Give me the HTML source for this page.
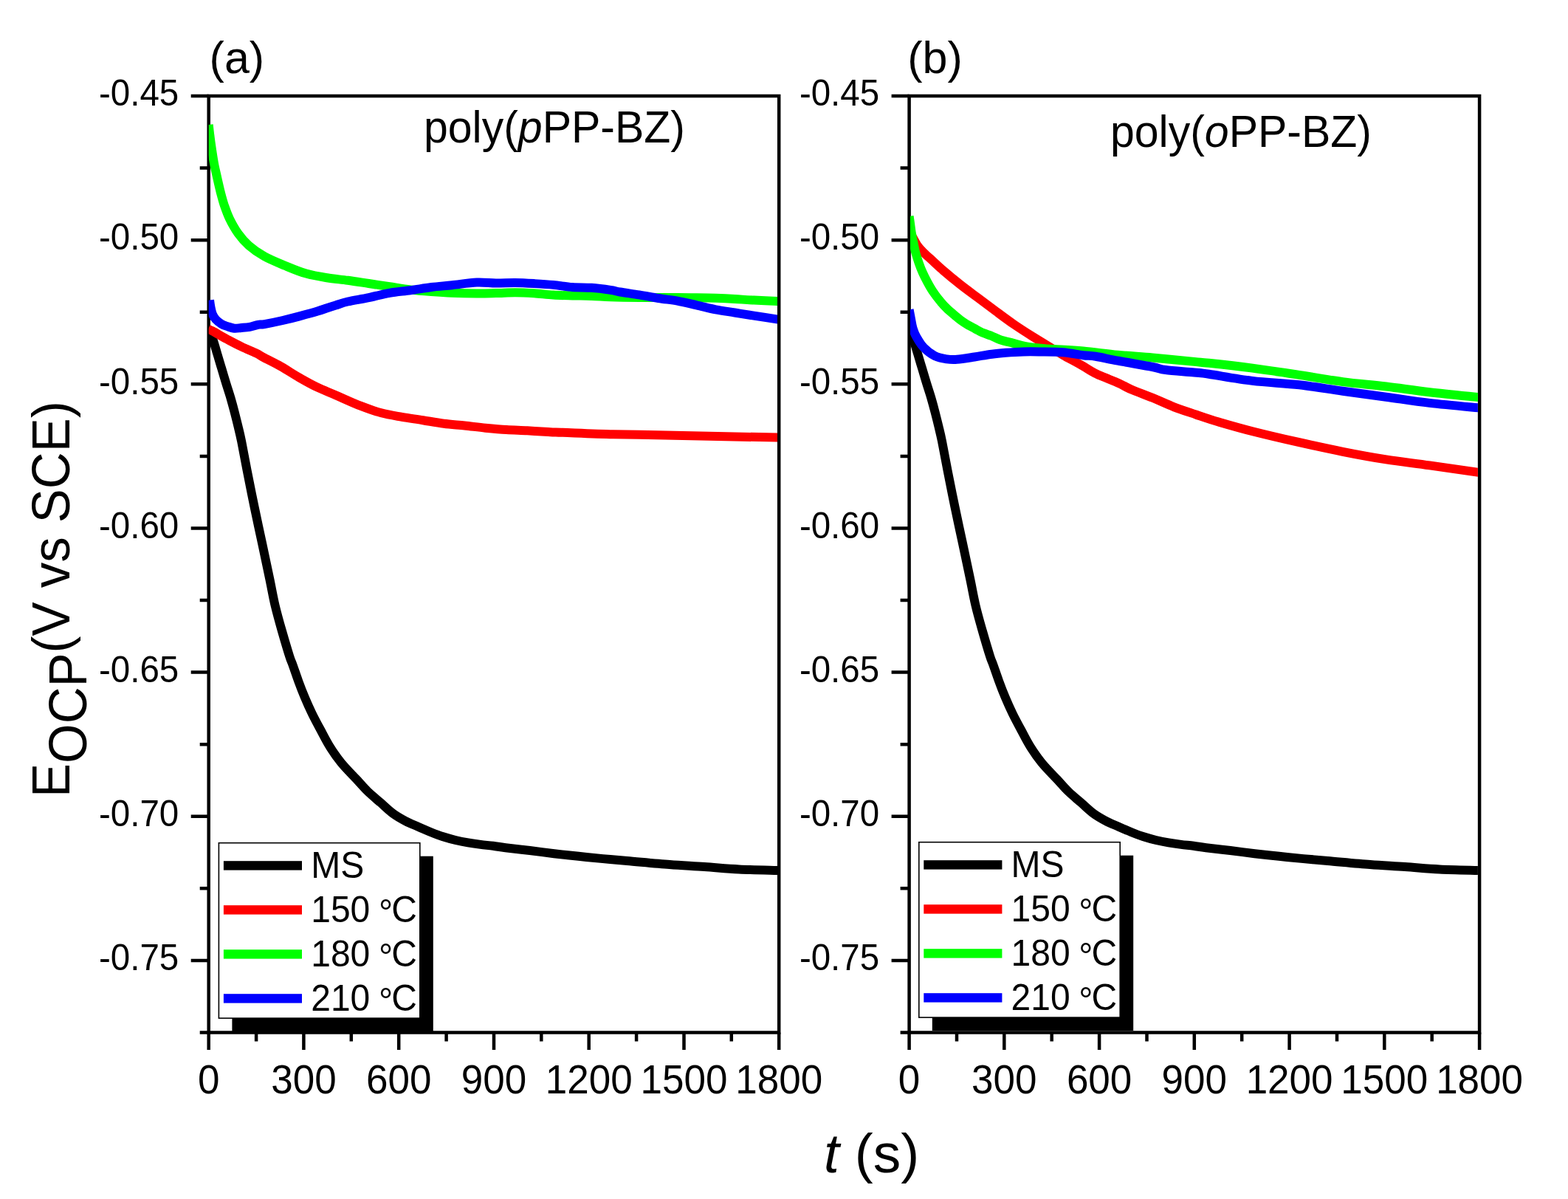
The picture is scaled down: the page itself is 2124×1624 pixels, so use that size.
<!DOCTYPE html>
<html><head><meta charset="utf-8"><title>E_OCP vs t</title>
<style>html,body{margin:0;padding:0;background:#fff;}svg{display:block;}text{font-family:"Liberation Sans", Arial, sans-serif;fill:#000;}</style>
</head><body>
<svg width="2124" height="1624" viewBox="0 0 2124 1624">
<rect x="0" y="0" width="2124" height="1624" fill="#fff"/>
<clipPath id="c0"><rect x="282.7" y="130.0" width="770.3" height="1268.5"/></clipPath>
<clipPath id="c1"><rect x="1233.0" y="130.0" width="768.9" height="1268.5"/></clipPath>
<rect x="282.7" y="130.0" width="772.5" height="1268.5" fill="none" stroke="#000" stroke-width="4.5"/>
<path d="M258.7,130.0H282.7M270.7,227.6H282.7M258.7,325.2H282.7M270.7,422.7H282.7M258.7,520.3H282.7M270.7,617.9H282.7M258.7,715.5H282.7M270.7,813.0H282.7M258.7,910.6H282.7M270.7,1008.2H282.7M258.7,1105.8H282.7M270.7,1203.3H282.7M258.7,1300.9H282.7M270.7,1398.5H282.7M282.7,1398.5V1422.0M347.1,1398.5V1410.5M411.4,1398.5V1422.0M475.8,1398.5V1410.5M540.2,1398.5V1422.0M604.6,1398.5V1410.5M669.0,1398.5V1422.0M733.3,1398.5V1410.5M797.7,1398.5V1422.0M862.1,1398.5V1410.5M926.5,1398.5V1422.0M990.8,1398.5V1410.5M1055.2,1398.5V1422.0" stroke="#000" stroke-width="4.5" fill="none"/>
<text transform="translate(242.2,143.2) scale(1,1.040)" font-size="47.5" text-anchor="end">-0.45</text>
<text transform="translate(242.2,338.4) scale(1,1.040)" font-size="47.5" text-anchor="end">-0.50</text>
<text transform="translate(242.2,533.5) scale(1,1.040)" font-size="47.5" text-anchor="end">-0.55</text>
<text transform="translate(242.2,728.7) scale(1,1.040)" font-size="47.5" text-anchor="end">-0.60</text>
<text transform="translate(242.2,923.8) scale(1,1.040)" font-size="47.5" text-anchor="end">-0.65</text>
<text transform="translate(242.2,1119.0) scale(1,1.040)" font-size="47.5" text-anchor="end">-0.70</text>
<text transform="translate(242.2,1314.1) scale(1,1.040)" font-size="47.5" text-anchor="end">-0.75</text>
<text transform="translate(282.7,1480.8) scale(1,1.040)" font-size="53" text-anchor="middle">0</text>
<text transform="translate(411.4,1480.8) scale(1,1.040)" font-size="53" text-anchor="middle">300</text>
<text transform="translate(540.2,1480.8) scale(1,1.040)" font-size="53" text-anchor="middle">600</text>
<text transform="translate(669.0,1480.8) scale(1,1.040)" font-size="53" text-anchor="middle">900</text>
<text transform="translate(797.7,1480.8) scale(1,1.040)" font-size="53" text-anchor="middle">1200</text>
<text transform="translate(926.5,1480.8) scale(1,1.040)" font-size="53" text-anchor="middle">1500</text>
<text transform="translate(1055.2,1480.8) scale(1,1.040)" font-size="53" text-anchor="middle">1800</text>
<rect x="1231.6" y="130.0" width="772.5" height="1268.5" fill="none" stroke="#000" stroke-width="4.5"/>
<path d="M1207.6,130.0H1231.6M1219.6,227.6H1231.6M1207.6,325.2H1231.6M1219.6,422.7H1231.6M1207.6,520.3H1231.6M1219.6,617.9H1231.6M1207.6,715.5H1231.6M1219.6,813.0H1231.6M1207.6,910.6H1231.6M1219.6,1008.2H1231.6M1207.6,1105.8H1231.6M1219.6,1203.3H1231.6M1207.6,1300.9H1231.6M1219.6,1398.5H1231.6M1231.6,1398.5V1422.0M1296.0,1398.5V1410.5M1360.3,1398.5V1422.0M1424.7,1398.5V1410.5M1489.1,1398.5V1422.0M1553.5,1398.5V1410.5M1617.8,1398.5V1422.0M1682.2,1398.5V1410.5M1746.6,1398.5V1422.0M1811.0,1398.5V1410.5M1875.3,1398.5V1422.0M1939.7,1398.5V1410.5M2004.1,1398.5V1422.0" stroke="#000" stroke-width="4.5" fill="none"/>
<text transform="translate(1191.1,143.2) scale(1,1.040)" font-size="47.5" text-anchor="end">-0.45</text>
<text transform="translate(1191.1,338.4) scale(1,1.040)" font-size="47.5" text-anchor="end">-0.50</text>
<text transform="translate(1191.1,533.5) scale(1,1.040)" font-size="47.5" text-anchor="end">-0.55</text>
<text transform="translate(1191.1,728.7) scale(1,1.040)" font-size="47.5" text-anchor="end">-0.60</text>
<text transform="translate(1191.1,923.8) scale(1,1.040)" font-size="47.5" text-anchor="end">-0.65</text>
<text transform="translate(1191.1,1119.0) scale(1,1.040)" font-size="47.5" text-anchor="end">-0.70</text>
<text transform="translate(1191.1,1314.1) scale(1,1.040)" font-size="47.5" text-anchor="end">-0.75</text>
<text transform="translate(1231.6,1480.8) scale(1,1.040)" font-size="53" text-anchor="middle">0</text>
<text transform="translate(1360.3,1480.8) scale(1,1.040)" font-size="53" text-anchor="middle">300</text>
<text transform="translate(1489.1,1480.8) scale(1,1.040)" font-size="53" text-anchor="middle">600</text>
<text transform="translate(1617.8,1480.8) scale(1,1.040)" font-size="53" text-anchor="middle">900</text>
<text transform="translate(1746.6,1480.8) scale(1,1.040)" font-size="53" text-anchor="middle">1200</text>
<text transform="translate(1875.3,1480.8) scale(1,1.040)" font-size="53" text-anchor="middle">1500</text>
<text transform="translate(2004.1,1480.8) scale(1,1.040)" font-size="53" text-anchor="middle">1800</text>
<path d="M282.7,445.0 C283.7,447.6 286.7,454.8 288.6,460.5 C290.5,466.2 292.4,473.0 294.3,479.4 C296.2,485.8 298.2,492.5 300.2,499.1 C302.2,505.7 304.1,512.2 306.1,518.8 C308.1,525.4 310.4,531.9 312.3,538.5 C314.2,545.1 316.0,551.6 317.7,558.2 C319.4,564.8 321.0,571.3 322.6,577.9 C324.2,584.5 325.1,587.8 327.1,597.6 C329.1,607.5 331.7,622.2 334.6,637.0 C337.5,651.8 341.1,669.9 344.5,686.3 C347.9,702.7 351.5,719.2 355.0,735.6 C358.5,752.0 362.5,770.7 365.4,784.8 C368.3,798.9 369.9,808.4 372.6,820.0 C375.4,831.6 378.6,843.0 381.9,854.5 C385.2,866.0 389.8,881.4 392.2,889.0 C394.6,896.6 394.3,894.5 396.3,900.0 C398.3,905.5 401.4,914.8 404.1,922.2 C406.8,929.6 409.6,936.9 412.7,944.3 C415.8,951.7 419.1,959.1 422.7,966.5 C426.3,973.9 430.3,981.3 434.3,988.7 C438.3,996.1 441.9,1003.5 446.5,1010.9 C451.1,1018.3 456.1,1025.6 462.1,1033.0 C468.1,1040.4 476.5,1048.7 482.6,1055.2 C488.7,1061.8 493.0,1067.0 498.5,1072.3 C504.0,1077.6 509.8,1082.2 515.4,1087.1 C521.0,1092.0 526.8,1097.7 532.4,1101.9 C538.0,1106.1 543.6,1109.1 549.3,1112.1 C554.9,1115.1 560.6,1117.2 566.3,1119.7 C571.9,1122.2 577.6,1124.7 583.2,1127.0 C588.9,1129.3 594.6,1131.5 600.2,1133.3 C605.9,1135.1 611.5,1136.7 617.1,1138.0 C622.8,1139.3 628.5,1140.4 634.1,1141.4 C639.8,1142.4 645.4,1143.2 651.0,1143.9 C656.6,1144.6 662.4,1145.1 668.0,1145.8 C673.6,1146.5 676.5,1147.3 684.8,1148.3 C693.1,1149.3 706.7,1150.7 717.7,1152.0 C728.7,1153.3 739.7,1154.9 750.7,1156.2 C761.7,1157.5 772.6,1158.7 783.6,1159.8 C794.6,1160.9 805.6,1162.1 816.6,1163.1 C827.6,1164.1 834.4,1164.7 849.5,1166.0 C864.6,1167.3 889.6,1169.8 907.1,1171.1 C924.6,1172.4 938.5,1173.0 954.2,1174.1 C969.9,1175.1 984.2,1176.6 1001.2,1177.4 C1018.2,1178.2 1046.9,1178.7 1056.0,1179.0" fill="none" stroke="#000000" stroke-width="12.0" stroke-linejoin="round" stroke-linecap="butt" clip-path="url(#c0)"/>
<path d="M1231.6,445.0 C1232.6,447.6 1235.6,454.8 1237.5,460.5 C1239.4,466.2 1241.3,473.0 1243.2,479.4 C1245.1,485.8 1247.1,492.5 1249.1,499.1 C1251.1,505.7 1253.0,512.2 1255.0,518.8 C1257.0,525.4 1259.3,531.9 1261.2,538.5 C1263.1,545.1 1264.9,551.6 1266.6,558.2 C1268.3,564.8 1269.9,571.3 1271.5,577.9 C1273.1,584.5 1274.0,587.8 1276.0,597.6 C1278.0,607.5 1280.6,622.2 1283.5,637.0 C1286.4,651.8 1290.0,669.9 1293.4,686.3 C1296.8,702.7 1300.4,719.2 1303.9,735.6 C1307.4,752.0 1311.4,770.7 1314.3,784.8 C1317.2,798.9 1318.8,808.4 1321.5,820.0 C1324.2,831.6 1327.5,843.0 1330.8,854.5 C1334.1,866.0 1338.7,881.4 1341.1,889.0 C1343.5,896.6 1343.2,894.5 1345.2,900.0 C1347.2,905.5 1350.3,914.8 1353.0,922.2 C1355.7,929.6 1358.5,936.9 1361.6,944.3 C1364.7,951.7 1368.0,959.1 1371.6,966.5 C1375.2,973.9 1379.2,981.3 1383.2,988.7 C1387.2,996.1 1390.8,1003.5 1395.4,1010.9 C1400.0,1018.3 1405.0,1025.6 1411.0,1033.0 C1417.0,1040.4 1425.4,1048.7 1431.5,1055.2 C1437.6,1061.8 1441.9,1067.0 1447.4,1072.3 C1452.9,1077.6 1458.7,1082.2 1464.3,1087.1 C1469.9,1092.0 1475.7,1097.7 1481.3,1101.9 C1486.9,1106.1 1492.5,1109.1 1498.2,1112.1 C1503.8,1115.1 1509.5,1117.2 1515.2,1119.7 C1520.8,1122.2 1526.4,1124.7 1532.1,1127.0 C1537.8,1129.3 1543.4,1131.5 1549.1,1133.3 C1554.8,1135.1 1560.3,1136.7 1566.0,1138.0 C1571.7,1139.3 1577.3,1140.4 1583.0,1141.4 C1588.7,1142.4 1594.2,1143.2 1599.9,1143.9 C1605.6,1144.6 1611.3,1145.1 1616.9,1145.8 C1622.5,1146.5 1625.4,1147.3 1633.7,1148.3 C1642.0,1149.3 1655.6,1150.7 1666.6,1152.0 C1677.6,1153.3 1688.6,1154.9 1699.6,1156.2 C1710.6,1157.5 1721.5,1158.7 1732.5,1159.8 C1743.5,1160.9 1754.5,1162.1 1765.5,1163.1 C1776.5,1164.1 1783.3,1164.7 1798.4,1166.0 C1813.5,1167.3 1838.5,1169.8 1856.0,1171.1 C1873.5,1172.4 1887.4,1173.0 1903.1,1174.1 C1918.8,1175.1 1933.1,1176.6 1950.1,1177.4 C1967.1,1178.2 1995.8,1178.7 2004.9,1179.0" fill="none" stroke="#000000" stroke-width="12.0" stroke-linejoin="round" stroke-linecap="butt" clip-path="url(#c1)"/>
<path d="M282.0,445.5 C283.0,446.0 283.6,446.1 287.9,448.4 C292.2,450.7 301.0,456.0 307.6,459.5 C314.2,463.0 320.7,466.5 327.3,469.6 C333.9,472.8 341.9,475.9 347.0,478.4 C352.1,480.9 352.4,481.6 358.0,484.6 C363.6,487.6 372.9,492.0 380.8,496.5 C388.7,501.0 397.3,506.8 405.5,511.5 C413.7,516.2 421.9,520.8 430.1,524.7 C438.3,528.7 445.0,531.0 454.7,535.2 C464.4,539.4 477.9,545.7 488.2,549.7 C498.5,553.7 507.1,556.8 516.5,559.3 C525.9,561.8 535.3,563.2 544.7,564.9 C554.1,566.5 563.6,567.7 573.0,569.2 C582.4,570.7 591.8,572.5 601.2,573.7 C610.6,574.9 620.1,575.5 629.5,576.5 C638.9,577.5 648.3,578.8 657.7,579.7 C667.1,580.6 676.6,581.5 686.0,582.1 C695.4,582.7 704.8,582.8 714.2,583.3 C723.6,583.8 734.9,584.6 742.5,585.0 C750.1,585.4 745.3,585.2 760.0,585.7 C774.7,586.2 807.1,587.6 830.6,588.2 C854.1,588.8 877.7,588.9 901.2,589.4 C924.8,589.9 946.1,590.6 971.9,591.1 C997.7,591.6 1042.0,592.3 1056.0,592.5" fill="none" stroke="#ff0000" stroke-width="12.0" stroke-linejoin="round" stroke-linecap="butt" clip-path="url(#c0)"/>
<path d="M282.7,169.0 C283.0,171.3 283.7,178.4 284.3,183.0 C284.9,187.6 285.2,190.3 286.1,196.6 C287.0,202.9 288.7,214.2 289.9,221.0 C291.1,227.8 292.1,231.2 293.5,237.6 C294.9,244.0 296.9,252.9 298.6,259.7 C300.4,266.5 301.9,272.5 304.0,278.6 C306.1,284.7 307.9,290.0 311.0,296.3 C314.1,302.6 318.3,310.2 322.6,316.2 C326.9,322.2 331.1,327.3 337.0,332.5 C342.9,337.7 349.9,342.7 358.2,347.3 C366.4,351.9 377.1,356.1 386.5,360.0 C395.9,363.9 405.3,367.9 414.7,370.6 C424.1,373.3 433.6,374.8 443.0,376.3 C452.4,377.8 461.8,378.5 471.2,379.8 C480.6,381.1 490.1,382.6 499.5,384.0 C508.9,385.4 518.3,386.9 527.7,388.3 C537.1,389.7 546.6,391.4 556.0,392.5 C565.4,393.6 574.8,394.3 584.2,395.0 C593.6,395.7 602.2,396.3 612.5,396.7 C622.8,397.1 636.0,397.4 645.9,397.5 C655.8,397.6 663.2,397.3 671.8,397.1 C680.4,396.9 689.1,396.2 697.7,396.2 C706.3,396.2 715.0,396.7 723.6,397.3 C732.2,397.9 740.9,399.1 749.5,399.6 C758.1,400.1 766.8,400.2 775.4,400.4 C784.0,400.6 792.7,400.6 801.3,400.9 C809.9,401.2 816.3,401.9 827.1,402.3 C837.9,402.7 850.9,402.9 866.0,403.0 C881.1,403.1 904.8,402.9 917.7,403.0 C930.6,403.1 935.0,403.2 943.6,403.3 C952.2,403.4 960.9,403.5 969.5,403.8 C978.1,404.1 986.8,404.5 995.4,405.0 C1004.0,405.5 1011.2,406.1 1021.3,406.6 C1031.4,407.1 1050.2,407.8 1056.0,408.0" fill="none" stroke="#00ff00" stroke-width="12.0" stroke-linejoin="round" stroke-linecap="butt" clip-path="url(#c0)"/>
<path d="M284.0,406.6 C284.2,408.2 284.8,412.9 285.4,416.0 C286.0,419.1 286.6,422.5 287.8,425.3 C289.0,428.1 290.4,430.6 292.4,432.8 C294.4,435.1 297.4,437.2 300.0,438.8 C302.6,440.4 305.2,441.1 308.1,442.1 C311.0,443.1 314.4,444.4 317.5,444.7 C320.6,445.0 323.5,444.3 327.0,444.0 C330.5,443.7 334.5,443.5 338.3,442.8 C342.1,442.1 346.3,440.4 349.6,439.8 C352.9,439.2 352.6,440.1 358.2,439.1 C363.8,438.1 375.1,435.8 383.0,434.0 C390.9,432.2 397.6,430.5 405.5,428.4 C413.4,426.3 423.9,423.5 430.1,421.6 C436.4,419.7 438.9,418.6 443.0,417.2 C447.1,415.8 450.0,414.9 454.7,413.5 C459.4,412.1 463.7,410.2 471.2,408.5 C478.7,406.8 490.1,405.1 499.5,403.1 C508.9,401.2 518.3,398.5 527.7,396.8 C537.1,395.1 546.6,394.5 556.0,393.2 C565.4,391.9 574.8,390.2 584.2,389.0 C593.6,387.8 602.2,387.3 612.5,386.2 C622.8,385.1 636.0,383.0 645.9,382.6 C655.8,382.2 663.2,383.5 671.8,383.6 C680.4,383.7 689.1,382.9 697.7,383.0 C706.3,383.1 715.0,383.6 723.6,384.1 C732.2,384.6 740.9,385.1 749.5,385.9 C758.1,386.7 766.8,388.4 775.4,389.0 C784.0,389.6 792.7,389.2 801.3,389.8 C809.9,390.4 820.6,391.9 827.1,392.9 C833.6,393.8 833.5,394.4 840.0,395.5 C846.5,396.6 857.3,398.0 865.9,399.4 C874.5,400.8 883.2,402.6 891.8,404.0 C900.4,405.4 909.1,406.1 917.7,407.6 C926.3,409.2 935.0,411.4 943.6,413.3 C952.2,415.2 960.9,417.6 969.5,419.3 C978.1,421.0 986.8,422.1 995.4,423.5 C1004.0,424.9 1011.2,426.0 1021.3,427.6 C1031.4,429.2 1050.2,432.1 1056.0,433.0" fill="none" stroke="#0000ff" stroke-width="12.0" stroke-linejoin="round" stroke-linecap="butt" clip-path="url(#c0)"/>
<path d="M1231.0,312.0 C1231.8,313.4 1233.9,317.1 1235.9,320.6 C1237.9,324.1 1240.5,329.5 1243.1,333.1 C1245.7,336.7 1248.4,339.4 1251.3,342.3 C1254.2,345.2 1256.0,346.5 1260.4,350.5 C1264.8,354.5 1271.1,360.7 1277.7,366.4 C1284.3,372.1 1292.2,378.6 1300.0,384.8 C1307.8,391.0 1316.4,397.2 1324.6,403.3 C1332.8,409.4 1341.1,415.6 1349.3,421.7 C1357.5,427.8 1365.7,434.0 1373.9,439.6 C1382.1,445.2 1389.4,449.9 1398.5,455.6 C1407.6,461.3 1421.4,469.6 1428.3,473.8 C1435.2,478.0 1433.7,477.4 1440.0,481.0 C1446.3,484.6 1458.8,491.2 1466.0,495.3 C1473.2,499.4 1477.3,502.4 1483.0,505.3 C1488.7,508.2 1494.5,510.3 1500.3,512.8 C1506.1,515.3 1512.1,517.6 1517.6,520.1 C1523.0,522.6 1525.7,524.7 1533.0,527.8 C1540.3,530.9 1551.6,534.9 1561.2,538.8 C1570.8,542.7 1580.5,547.5 1590.4,551.3 C1600.3,555.1 1610.5,558.3 1620.5,561.7 C1630.5,565.1 1638.0,567.8 1650.7,571.5 C1663.4,575.2 1678.4,579.6 1696.6,584.2 C1714.8,588.8 1739.6,594.6 1760.0,599.2 C1780.4,603.8 1799.3,607.9 1818.9,611.8 C1838.5,615.7 1858.1,619.3 1877.7,622.4 C1897.3,625.5 1915.4,627.4 1936.6,630.4 C1957.8,633.4 1993.6,638.6 2005.0,640.2" fill="none" stroke="#ff0000" stroke-width="12.0" stroke-linejoin="round" stroke-linecap="butt" clip-path="url(#c1)"/>
<path d="M1231.6,293.0 C1231.9,294.8 1232.7,300.4 1233.2,304.0 C1233.7,307.6 1233.9,310.3 1234.6,314.5 C1235.3,318.7 1236.5,324.6 1237.5,329.3 C1238.5,334.1 1239.3,338.6 1240.5,343.0 C1241.7,347.4 1243.1,351.6 1244.6,355.9 C1246.1,360.2 1247.7,364.5 1249.6,368.8 C1251.5,373.1 1253.7,377.4 1256.0,381.7 C1258.3,386.0 1260.6,390.3 1263.6,394.7 C1266.6,399.1 1270.8,404.5 1273.9,408.3 C1277.0,412.1 1279.0,414.3 1282.2,417.4 C1285.4,420.5 1290.1,424.4 1293.3,427.1 C1296.5,429.8 1298.8,431.8 1301.6,433.8 C1304.4,435.8 1306.7,437.4 1309.9,439.3 C1313.1,441.2 1317.3,443.4 1321.0,445.4 C1324.7,447.4 1328.4,449.5 1332.1,451.1 C1335.8,452.7 1339.4,453.5 1343.1,455.0 C1346.8,456.5 1349.4,458.4 1354.2,460.0 C1359.0,461.6 1365.7,463.1 1371.8,464.6 C1377.9,466.2 1384.4,468.1 1390.7,469.3 C1397.0,470.5 1403.2,471.0 1409.5,471.6 C1415.8,472.2 1418.7,472.4 1428.3,473.0 C1437.9,473.6 1452.8,474.2 1467.1,475.5 C1481.4,476.8 1498.5,479.2 1514.2,480.7 C1529.9,482.2 1544.0,483.0 1561.2,484.5 C1578.5,486.0 1605.0,488.7 1617.7,489.9 C1630.5,491.1 1624.6,490.4 1637.7,491.8 C1650.8,493.2 1677.0,496.1 1696.6,498.6 C1716.2,501.2 1735.0,504.0 1755.4,507.1 C1775.8,510.2 1798.5,514.4 1818.9,517.1 C1839.3,519.8 1858.1,521.1 1877.7,523.5 C1897.3,525.9 1915.4,528.7 1936.6,531.2 C1957.8,533.7 1993.6,537.1 2005.0,538.3" fill="none" stroke="#00ff00" stroke-width="12.0" stroke-linejoin="round" stroke-linecap="butt" clip-path="url(#c1)"/>
<path d="M1231.6,419.5 C1232.0,421.4 1233.0,426.8 1233.8,431.0 C1234.6,435.2 1235.2,440.2 1236.5,444.5 C1237.8,448.8 1239.0,452.1 1241.5,456.5 C1244.0,460.9 1247.1,466.5 1251.3,470.8 C1255.5,475.1 1261.2,479.6 1266.4,482.2 C1271.6,484.8 1277.4,485.5 1282.4,486.3 C1287.4,487.1 1290.2,487.3 1296.5,486.8 C1302.8,486.3 1312.2,484.7 1320.0,483.5 C1327.8,482.3 1336.5,480.6 1343.6,479.7 C1350.7,478.8 1355.3,478.4 1362.4,477.8 C1369.5,477.2 1378.2,476.6 1386.0,476.4 C1393.8,476.2 1400.5,476.3 1409.5,476.4 C1418.5,476.5 1430.4,476.4 1440.0,477.2 C1449.6,478.0 1459.7,480.3 1467.1,481.2 C1474.5,482.1 1476.3,481.6 1484.2,482.8 C1492.1,484.1 1501.4,486.3 1514.2,488.7 C1527.0,491.1 1550.4,494.9 1561.2,497.0 C1572.0,499.1 1569.5,499.8 1578.9,501.0 C1588.3,502.2 1607.9,503.5 1617.7,504.5 C1627.5,505.5 1624.6,504.9 1637.7,506.8 C1650.8,508.7 1676.2,513.5 1696.6,515.9 C1717.0,518.3 1739.6,519.0 1760.0,521.3 C1780.4,523.6 1799.3,527.1 1818.9,529.8 C1838.5,532.5 1858.1,535.0 1877.7,537.7 C1897.3,540.4 1915.4,543.4 1936.6,545.9 C1957.8,548.4 1993.6,551.5 2005.0,552.6" fill="none" stroke="#0000ff" stroke-width="12.0" stroke-linejoin="round" stroke-linecap="butt" clip-path="url(#c1)"/>
<rect x="314.4" y="1159.7" width="272.4" height="237.4" fill="#000"/>
<rect x="296.4" y="1141.7" width="272.4" height="237.4" fill="#fff" stroke="#000" stroke-width="1.6"/>
<rect x="302.9" y="1166.2" width="106.1" height="12.4" fill="#000000"/>
<text transform="translate(421.2,1189.2) scale(1,1.040)" font-size="48">MS</text>
<rect x="302.9" y="1226.2" width="106.1" height="12.4" fill="#ff0000"/>
<text transform="translate(421.2,1249.2) scale(1,1.040)" font-size="48">150 <tspan dx="-1.7" dy="3.4">&#176;</tspan><tspan dx="-1.9" dy="-3.4">C</tspan></text>
<rect x="302.9" y="1286.2" width="106.1" height="12.4" fill="#00ff00"/>
<text transform="translate(421.2,1309.2) scale(1,1.040)" font-size="48">180 <tspan dx="-1.7" dy="3.4">&#176;</tspan><tspan dx="-1.9" dy="-3.4">C</tspan></text>
<rect x="302.9" y="1346.2" width="106.1" height="12.4" fill="#0000ff"/>
<text transform="translate(421.2,1369.2) scale(1,1.040)" font-size="48">210 <tspan dx="-1.7" dy="3.4">&#176;</tspan><tspan dx="-1.9" dy="-3.4">C</tspan></text>
<rect x="1262.8" y="1158.7" width="272.4" height="237.4" fill="#000"/>
<rect x="1244.8" y="1140.7" width="272.4" height="237.4" fill="#fff" stroke="#000" stroke-width="1.6"/>
<rect x="1251.3" y="1165.2" width="106.1" height="12.4" fill="#000000"/>
<text transform="translate(1369.6,1188.2) scale(1,1.040)" font-size="48">MS</text>
<rect x="1251.3" y="1225.2" width="106.1" height="12.4" fill="#ff0000"/>
<text transform="translate(1369.6,1248.2) scale(1,1.040)" font-size="48">150 <tspan dx="-1.7" dy="3.4">&#176;</tspan><tspan dx="-1.9" dy="-3.4">C</tspan></text>
<rect x="1251.3" y="1285.2" width="106.1" height="12.4" fill="#00ff00"/>
<text transform="translate(1369.6,1308.2) scale(1,1.040)" font-size="48">180 <tspan dx="-1.7" dy="3.4">&#176;</tspan><tspan dx="-1.9" dy="-3.4">C</tspan></text>
<rect x="1251.3" y="1345.2" width="106.1" height="12.4" fill="#0000ff"/>
<text transform="translate(1369.6,1368.2) scale(1,1.040)" font-size="48">210 <tspan dx="-1.7" dy="3.4">&#176;</tspan><tspan dx="-1.9" dy="-3.4">C</tspan></text>
<text transform="translate(283.6,98.9) scale(1,1.000)" font-size="61">(a)</text>
<text transform="translate(1229.3,98.9) scale(1,1.000)" font-size="61">(b)</text>
<text transform="translate(574.0,192.8) scale(1,1.020)" font-size="59">poly(<tspan font-style="italic">p</tspan>PP-BZ)</text>
<text transform="translate(1504.0,199.4) scale(1,1.020)" font-size="59">poly(<tspan font-style="italic">o</tspan>PP-BZ)</text>
<text transform="translate(93.8,1080.0) rotate(-90) scale(1,1.040)" font-size="69">E<tspan dy="22.2">OCP</tspan><tspan dy="-22.2">(V vs SCE)</tspan></text>
<text transform="translate(1116.0,1587.7) scale(1,1.000)" font-size="75"><tspan font-style="italic">t</tspan> (s)</text>
</svg></body></html>
